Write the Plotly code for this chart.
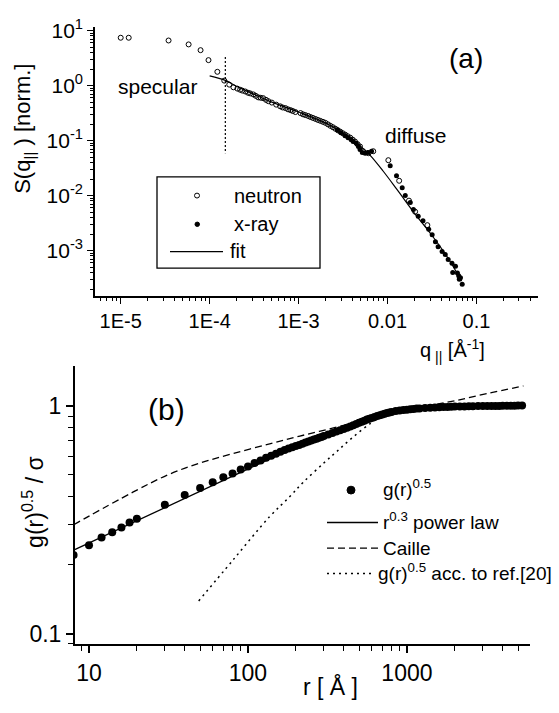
import plotly.graph_objects as go

W, H = 559, 713
FONT = "Liberation Sans, Arial, sans-serif"

# ---------------- panel (a) data ----------------
q_neutron = [1.0e-5, 1.23e-5, 3.45e-5, 5.8e-5, 7.9e-5, 9.7e-5, 1.22e-4, 1.46e-4, 1.66e-4, 1.85e-4,
             2.05e-4, 2.2e-4, 2.33e-4, 2.52e-4, 2.7e-4, 2.86e-4, 3.1e-4, 3.3e-4, 3.52e-4, 3.75e-4,
             4.0e-4, 4.3e-4, 4.57e-4, 5.0e-4, 5.6e-4, 6.2e-4, 6.6e-4, 7.1e-4, 7.6e-4, 8.1e-4,
             8.6e-4, 9.2e-4, 1.05e-3, 1.12e-3, 1.19e-3, 1.28e-3, 1.36e-3, 1.45e-3, 1.55e-3, 1.65e-3,
             1.76e-3, 1.88e-3, 2.0e-3, 2.14e-3, 2.28e-3, 2.43e-3, 2.59e-3, 2.76e-3, 2.94e-3, 3.14e-3,
             3.34e-3, 3.56e-3, 3.8e-3, 4.05e-3, 4.3e-3, 4.6e-3, 4.9e-3, 5.3e-3, 6.1e-3, 6.9e-3,
             0.0102, 0.0135, 0.0174, 0.0204, 0.028]
S_neutron = [7.4, 7.4, 6.6, 5.6, 4.4, 2.9, 1.78, 1.23, 1.04, 0.93,
             0.88, 0.84, 0.81, 0.78, 0.74, 0.72, 0.69, 0.65, 0.61, 0.60,
             0.59, 0.55, 0.52, 0.49, 0.45, 0.42, 0.40, 0.39, 0.37, 0.358,
             0.345, 0.33, 0.316, 0.30, 0.291, 0.28, 0.268, 0.258, 0.247, 0.237,
             0.228, 0.219, 0.21, 0.197, 0.185, 0.175, 0.164, 0.154, 0.145, 0.136,
             0.128, 0.12, 0.113, 0.104, 0.096, 0.086, 0.078, 0.064, 0.059, 0.064,
             0.044, 0.0186, 0.0081, 0.0051, 0.0029]

q_xray = [2.73e-3, 3.0e-3, 3.33e-3, 3.6e-3, 3.9e-3, 4.1e-3, 4.45e-3, 4.7e-3, 4.9e-3, 5.2e-3,
          5.6e-3, 6.0e-3, 6.6e-3, 0.0107, 0.0126, 0.0146, 0.0158, 0.018, 0.0195, 0.0221,
          0.025, 0.029, 0.0317, 0.0345, 0.037, 0.041, 0.0445, 0.048, 0.053, 0.054,
          0.058, 0.061, 0.063, 0.064, 0.066, 0.069]
S_xray = [0.158, 0.139, 0.123, 0.113, 0.104, 0.096, 0.089, 0.078, 0.069, 0.061,
          0.059, 0.061, 0.064, 0.035, 0.023, 0.0139, 0.010, 0.0075, 0.0056, 0.0042,
          0.0035, 0.00245, 0.00194, 0.00145, 0.00118, 0.00096, 0.00085, 0.00069, 0.00059, 0.00040,
          0.00052, 0.00039, 0.00035, 0.00030, 0.00032, 0.000245]

q_fit = [1.0e-4, 1.5e-4, 2.0e-4, 3.0e-4, 5.0e-4, 1.0e-3, 2.0e-3, 3.0e-3, 4.0e-3, 5.0e-3,
         6.3e-3, 8.9e-3, 0.0128, 0.0204, 0.030, 0.045, 0.068]
S_fit = [1.5, 1.24, 0.97, 0.72, 0.5, 0.33, 0.21, 0.145, 0.105, 0.078,
         0.055, 0.028, 0.0128, 0.0046, 0.0021, 0.00085, 0.00028]

q_border = [1.5e-4, 1.5e-4]
S_border = [3.3, 0.059]

# ---------------- panel (b) data ----------------
r_g = [8, 10, 12, 14, 16, 18, 20, 30, 40, 50, 60, 70, 80, 90, 100, 110, 120, 130, 140, 150,
       160, 170, 180, 190, 200, 210, 220, 230, 240, 250, 260, 270, 280, 290, 300, 320, 340, 360,
       380, 400, 420, 440, 460, 480, 500, 520, 540, 560, 580, 600, 625, 650, 675, 700, 725, 750,
       775, 800, 850, 900, 950, 1000, 1050, 1100, 1150, 1200, 1300, 1400, 1500, 1600, 1700, 1800,
       1900, 2000, 2150, 2300, 2450, 2600, 2800, 3000, 3200, 3400, 3600, 3800, 4000, 4250, 4500,
       4750, 5000, 5300]
g_g = [0.221, 0.244, 0.264, 0.278, 0.292, 0.307, 0.319, 0.367, 0.405, 0.435, 0.461, 0.485, 0.504,
       0.525, 0.541, 0.56, 0.575, 0.59, 0.603, 0.615, 0.627, 0.638, 0.648, 0.657, 0.665, 0.672,
       0.68, 0.688, 0.695, 0.703, 0.71, 0.716, 0.723, 0.729, 0.735, 0.746, 0.758, 0.77, 0.78, 0.79,
       0.8, 0.81, 0.82, 0.83, 0.84, 0.85, 0.859, 0.868, 0.876, 0.883, 0.892, 0.9, 0.908, 0.915,
       0.922, 0.928, 0.933, 0.938, 0.946, 0.952, 0.957, 0.96, 0.963, 0.967, 0.97, 0.972, 0.976,
       0.979, 0.982, 0.984, 0.985, 0.987, 0.988, 0.99, 0.991, 0.992, 0.993, 0.994, 0.995, 0.995,
       0.996, 0.996, 0.997, 0.997, 0.998, 0.998, 0.999, 0.999, 1.0, 1.0]

r_power = [8, 250]
g_power = [0.232, 0.71]

r_caille = [8, 19, 32, 50, 80, 137, 212, 350, 560, 815, 1300, 2000, 3200, 5400]
g_caille = [0.30, 0.418, 0.50, 0.56, 0.615, 0.68, 0.735, 0.80, 0.87, 0.92, 0.99, 1.05, 1.13, 1.22]

r_ref20 = [49, 80, 137, 184, 222, 300, 363, 450, 590, 728, 900]
g_ref20 = [0.139, 0.209, 0.326, 0.40, 0.46, 0.56, 0.63, 0.72, 0.836, 0.91, 0.95]

# ---------------- figure ----------------
fig = go.Figure()

fig.add_trace(go.Scatter(x=q_fit, y=S_fit, mode="lines", line=dict(color="black", width=1.2, shape="spline"),
                         xaxis="x", yaxis="y", showlegend=False))
fig.add_trace(go.Scatter(x=q_border, y=S_border, mode="lines", line=dict(color="black", width=1.2, dash="2px,2px"),
                         xaxis="x", yaxis="y", showlegend=False))
fig.add_trace(go.Scatter(x=q_xray, y=S_xray, mode="markers",
                         marker=dict(symbol="circle", size=5, color="black"),
                         xaxis="x", yaxis="y", showlegend=False))
fig.add_trace(go.Scatter(x=q_neutron, y=S_neutron, mode="markers",
                         marker=dict(symbol="circle-open", size=5, color="black", line=dict(width=1)),
                         xaxis="x", yaxis="y", showlegend=False))

fig.add_trace(go.Scatter(x=r_caille, y=g_caille, mode="lines", line=dict(color="black", width=1.3, dash="7px,4px", shape="spline"),
                         xaxis="x2", yaxis="y2", showlegend=False))
fig.add_trace(go.Scatter(x=r_ref20, y=g_ref20, mode="lines", line=dict(color="black", width=1.5, dash="2px,4px", shape="spline"),
                         xaxis="x2", yaxis="y2", showlegend=False))
fig.add_trace(go.Scatter(x=r_power, y=g_power, mode="lines", line=dict(color="black", width=1.3),
                         xaxis="x2", yaxis="y2", showlegend=False))
fig.add_trace(go.Scatter(x=r_g, y=g_g, mode="markers", marker=dict(symbol="circle", size=8, color="black"),
                         xaxis="x2", yaxis="y2", showlegend=False))


def px(x):
    return x / W

def py(y):
    return 1 - y / H

def minor_vals(lo, hi):
    out = []
    for e in range(lo, hi + 1):
        for k in range(2, 10):
            out.append(k * 10.0 ** e)
    return out

def minor(vals, length, width):
    return dict(tickmode="array", tickvals=vals, ticks="outside", ticklen=length,
                tickwidth=width, tickcolor="black", showgrid=False)

axis_common = dict(type="log", showgrid=False, zeroline=False, showline=True, linecolor="black",
                   ticks="outside", tickcolor="black", mirror=False, tickmode="array")

fig.update_layout(
    width=W, height=H, margin=dict(l=0, r=0, t=0, b=0),
    paper_bgcolor="white", plot_bgcolor="white",
    font=dict(family=FONT, color="black"),
    xaxis=dict(**axis_common, domain=[px(95), px(538)], anchor="y", range=[-5.289, -0.309],
               linewidth=1.6, ticklen=6, tickwidth=1.3,
               tickvals=[1e-5, 1e-4, 1e-3, 1e-2, 1e-1], ticktext=["1E-5", "1E-4", "1E-3", "0.01", "0.1"],
               tickfont=dict(size=20, family=FONT),
               minor=minor(minor_vals(-6, -1), 3, 1)),
    yaxis=dict(**axis_common, domain=[py(290), py(16)], anchor="x", range=[-3.82, 1.07],
               linewidth=1.6, ticklen=6, tickwidth=1.3,
               tickvals=[1e-3, 1e-2, 1e-1, 1, 10],
               ticktext=["10<sup>-3</sup>", "10<sup>-2</sup>", "10<sup>-1</sup>", "10<sup>0</sup>", "10<sup>1</sup>"],
               tickfont=dict(size=21, family=FONT),
               minor=minor(minor_vals(-4, 1), 3, 1)),
    xaxis2=dict(**axis_common, domain=[px(75), px(530)], anchor="y2", range=[0.912, 3.774],
                linewidth=2, ticklen=7, tickwidth=1.5,
                tickvals=[10, 100, 1000], ticktext=["10", "100", "1000"],
                tickfont=dict(size=23, family=FONT),
                minor=minor(minor_vals(0, 3), 5, 1.3)),
    yaxis2=dict(**axis_common, domain=[py(645), py(362)], anchor="x2", range=[-1.047, 0.172],
                linewidth=2, ticklen=7, tickwidth=1.5,
                tickvals=[0.1, 1], ticktext=["0.1", "1"],
                tickfont=dict(size=23, family=FONT),
                minor=minor(minor_vals(-2, 0), 5, 1.3)),
)

ann = []
def text(x, y, s, size, xanchor="center", angle=0):
    ann.append(dict(x=px(x), y=py(y), xref="paper", yref="paper", text=s, showarrow=False,
                    xanchor=xanchor, yanchor="middle", textangle=angle,
                    font=dict(size=size, family=FONT, color="black")))

# panel (a) texts
text(466, 48, "(a)", 28)
text(157, 77, "specular", 21)
text(416, 127, "diffuse", 21)
text(24, 120, "S(q<sub>||</sub> ) [norm.]", 22, angle=-90)
text(452, 346, "q<sub> ||</sub> [Å<sup>-1</sup>]", 20)
text(232, 188, "neutron", 20, xanchor="left")
text(232, 217, "x-ray", 20, xanchor="left")
text(228, 244, "fit", 20, xanchor="left")

# panel (b) texts
text(166, 406, "(b)", 30)
text(33, 500, "g(r)<sup>0.5</sup> / σ", 23, angle=-90)
text(330, 688, "r [ Å ]", 23)
text(381, 486, "g(r)<sup>0.5</sup>", 19, xanchor="left")
text(381, 519, "r<sup>0.3</sup> power law", 19, xanchor="left")
text(381, 547, "Caille", 19, xanchor="left")
text(376, 571, "g(r)<sup>0.5</sup> acc. to ref.[20]", 19, xanchor="left")

shapes = []
# legend (a) box
shapes.append(dict(type="rect", xref="paper", yref="paper", x0=px(157), x1=px(320), y0=py(262), y1=py(169),
                   line=dict(color="black", width=1.3)))
shapes.append(dict(type="circle", xref="paper", yref="paper", x0=px(194.5), x1=px(199.5), y0=py(190.5), y1=py(185.5),
                   line=dict(color="black", width=1)))
shapes.append(dict(type="circle", xref="paper", yref="paper", x0=px(195), x1=px(199.5), y0=py(219.5), y1=py(215),
                   line=dict(color="black", width=1), fillcolor="black"))
shapes.append(dict(type="line", xref="paper", yref="paper", x0=px(170), x1=px(223), y0=py(245), y1=py(245),
                   line=dict(color="black", width=1.2)))
# legend (b) glyphs
shapes.append(dict(type="circle", xref="paper", yref="paper", x0=px(347), x1=px(355), y0=py(492), y1=py(484),
                   line=dict(color="black", width=1), fillcolor="black"))
shapes.append(dict(type="line", xref="paper", yref="paper", x0=px(327), x1=px(378), y0=py(521), y1=py(521),
                   line=dict(color="black", width=1.3)))
shapes.append(dict(type="line", xref="paper", yref="paper", x0=px(327), x1=px(378), y0=py(547), y1=py(547),
                   line=dict(color="black", width=1.3, dash="7px,4px")))
shapes.append(dict(type="line", xref="paper", yref="paper", x0=px(327), x1=px(373), y0=py(573), y1=py(573),
                   line=dict(color="black", width=1.5, dash="2px,4px")))

fig.update_layout(annotations=ann, shapes=shapes)
fig.write_html("out.html")
